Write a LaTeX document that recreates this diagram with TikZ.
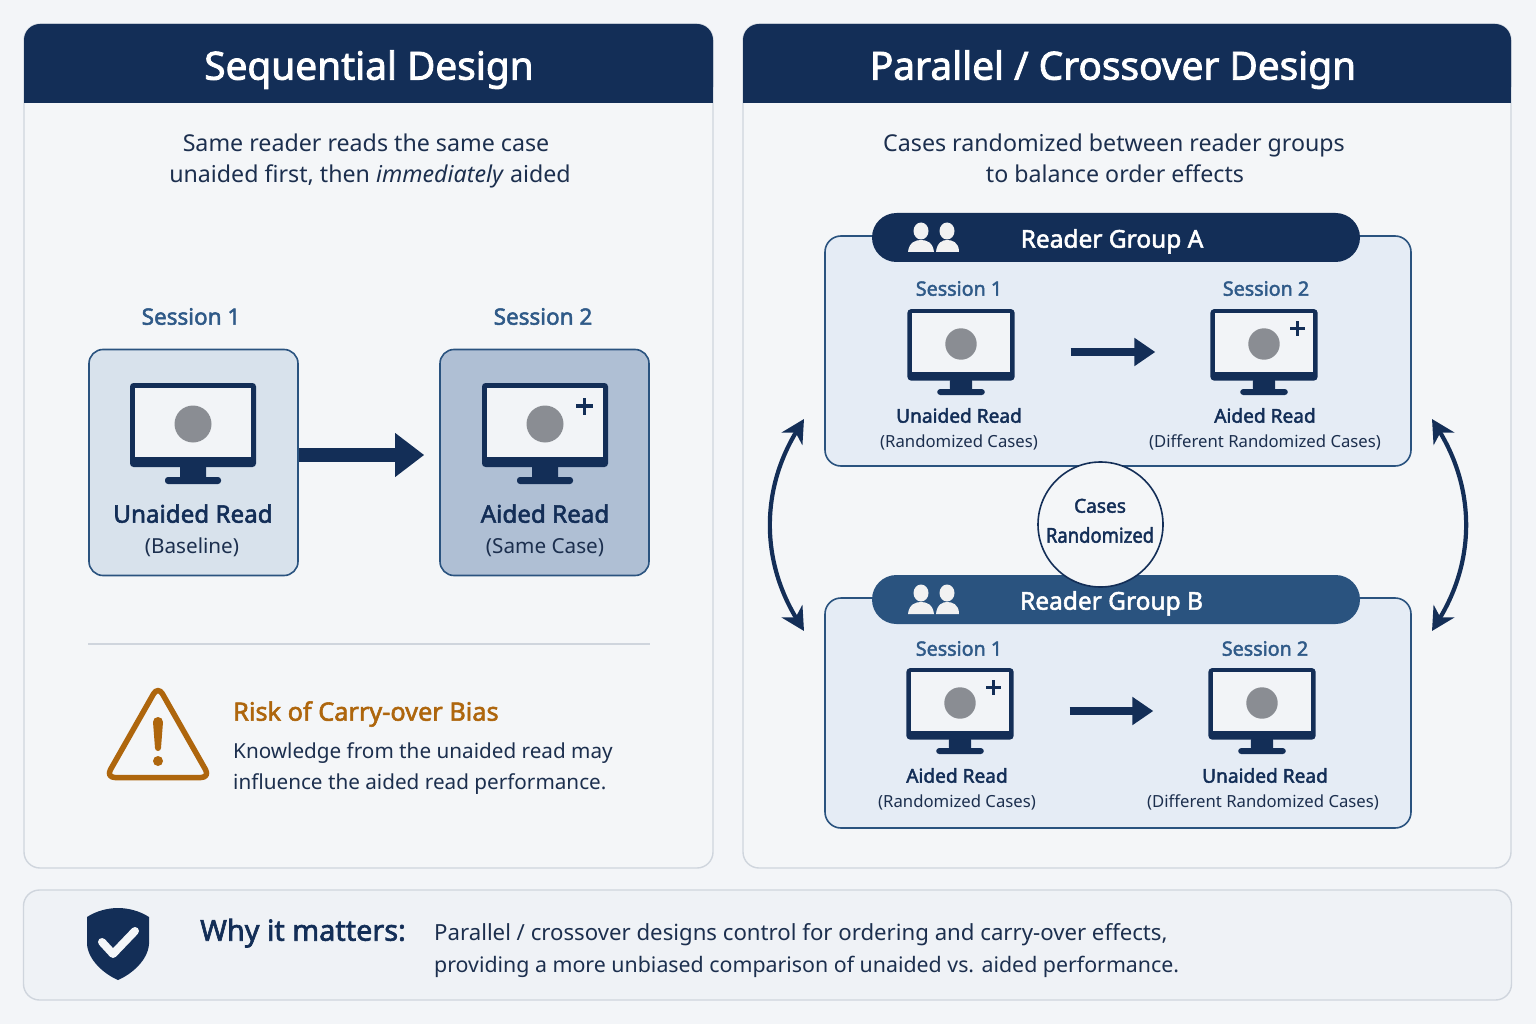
\documentclass[tikz,border=0pt]{standalone}
\usepackage{fontspec}
\usepackage{graphicx}
\setmainfont{Noto Sans}
\newfontfamily\semi[FakeBold=2.2]{Noto Sans}
\usetikzlibrary{arrows.meta,calc}
\definecolor{navy}{HTML}{132E57}
\definecolor{blueb}{HTML}{2A537F}
\definecolor{sess}{HTML}{2F5A88}
\definecolor{pagebg}{HTML}{F3F5F8}
\definecolor{panelbg}{HTML}{F4F6F8}
\definecolor{panelline}{HTML}{CFD5DD}
\definecolor{bottombg}{HTML}{EFF2F6}
\definecolor{boxa}{HTML}{D8E2EC}
\definecolor{boxb}{HTML}{AFBFD4}
\definecolor{groupbg}{HTML}{E5ECF5}
\definecolor{screen}{HTML}{F2F4F7}
\definecolor{dotgray}{HTML}{8A8D93}
\definecolor{warn}{HTML}{AE660D}
\definecolor{inktext}{HTML}{1C2F4E}
\newcommand{\monitorpic}[5]{%
  \node[minimum width=107pt*#4/0.85,minimum height=82pt,inner sep=0pt] (#1) at (#2,#3+8*#4/0.85) {};
  \begin{scope}[shift={(#2,#3)},scale=#4]
    \fill[navy,rounded corners=3pt] (-13,40) rectangle (13,56);
    \fill[navy,rounded corners=3pt] (-28,53) rectangle (28,60);
    \fill[navy,rounded corners=3.5pt] (-63,-41) rectangle (63,43);
    \fill[screen] (-58,-36) rectangle (58,33);
    \fill[dotgray] (0,0) circle (18.5);
    \ifnum#5=1
      \fill[navy] (31,-19.6) rectangle (48,-16.4);
      \fill[navy] (37.9,-26.5) rectangle (41.1,-9.5);
    \fi
  \end{scope}}
\newcommand{\peoplepic}[2]{%
  \begin{scope}[shift={(#1,#2)}]
    \fill[white!95!black] (-13,-8) ellipse (7.5 and 8.5);
    \fill[white!95!black] (13,-8) ellipse (7.5 and 8.5);
    \fill[white!95!black] (-26,13) .. controls (-25,3) and (-18,1) .. (-13,1) .. controls (-8,1) and (-1,3) .. (0,13) -- cycle;
    \fill[white!95!black] (2,13) .. controls (3,3) and (9,1) .. (13,1) .. controls (18,1) and (25,3) .. (25,13) -- cycle;
  \end{scope}}
\tikzset{
  x=1pt,y=-1pt,
  panel/.style={draw=panelline,line width=1.4pt,fill=panelbg,rounded corners=16pt,inner sep=0pt},
  sbox/.style={draw=blueb,line width=1.6pt,rounded corners=14pt,inner sep=0pt,minimum width=209pt,minimum height=226pt},
  gbox/.style={draw=blueb,line width=1.6pt,fill=groupbg,rounded corners=16pt,inner sep=0pt,minimum width=586pt,minimum height=230pt},
  pill/.style={rounded corners=24.5pt,inner sep=0pt,minimum width=488pt,minimum height=49pt},
  txt/.style={inner sep=0pt,anchor=mid,text=inktext},
  txtl/.style={inner sep=0pt,anchor=mid west,text=inktext},
  title/.style={txt,text=white,yshift=-10pt,font=\semi\fontsize{38.8}{38.8}\selectfont},
  lead/.style={txt,yshift=-6pt,font=\fontsize{23.2}{23.2}\selectfont},
  sessbig/.style={txt,yshift=-6pt,text=sess,font=\semi\fontsize{22.5}{22.5}\selectfont},
  sesssm/.style={txt,yshift=-5pt,text=sess,font=\semi\fontsize{19.7}{19.7}\selectfont},
  readbig/.style={txt,yshift=-6pt,text=navy,font=\semi\fontsize{24.2}{24.2}\selectfont},
  subbig/.style={txt,yshift=-6pt,font=\fontsize{20.7}{20.7}\selectfont},
  readsm/.style={txt,yshift=-5pt,text=navy,font=\semi\fontsize{19.1}{19.1}\selectfont},
  subsm/.style={txt,yshift=-5pt,font=\fontsize{16.7}{16.7}\selectfont},
  grouptxt/.style={txt,yshift=-6pt,text=white,font=\semi\fontsize{24.5}{24.5}\selectfont},
  body/.style={txtl,yshift=-6pt,font=\fontsize{20.7}{20.7}\selectfont},
  flowbig/.style={line width=14pt,draw=navy,-{Triangle[length=29pt,width=42pt]}},
  flowsm/.style={line width=8pt,draw=navy,-{Triangle[length=21pt,width=27pt]}},
  swap/.style={line width=4.2pt,draw=navy,{Stealth[length=23pt,width=24pt,inset=7pt]}-{Stealth[length=23pt,width=24pt,inset=7pt]}},
}
\begin{document}
\begin{tikzpicture}
\useasboundingbox (0,0) rectangle (1536,1024);
\fill[pagebg] (0,0) rectangle (1536,1024);

% panels
\node[panel,minimum width=689pt,minimum height=844pt] (leftpanel) at (368.5,446) {};
\node[panel,minimum width=768pt,minimum height=844pt] (rightpanel) at (1127,446) {};
\node[panel,fill=bottombg,minimum width=1488pt,minimum height=110pt] (bottompanel) at (767.5,945) {};

% headers
\fill[navy,rounded corners=16pt] (24,103) -- (24,24) -- (713,24) -- (713,103) [sharp corners] -- cycle;
\fill[navy] (24,80) rectangle (713,103);
\fill[navy,rounded corners=16pt] (743,103) -- (743,24) -- (1511,24) -- (1511,103) [sharp corners] -- cycle;
\fill[navy] (743,80) rectangle (1511,103);
\node[title] (lefttitle) at (369,67) {Sequential Design};
\node[title] (righttitle) at (1113,67) {Parallel / Crossover Design};

% left panel
\node[lead] (ll1) at (366,143) {Same reader reads the same case};
\node[lead] (ll2) at (370,174) {unaided first, then \textit{immediately} aided};
\node[sessbig] (ls1) at (191,316) {Session 1};
\node[sessbig] (ls2) at (543,316) {Session 2};
\node[sbox,fill=boxa] (s1) at (193.5,462.5) {};
\node[sbox,fill=boxb] (s2) at (544.5,462.5) {};
\monitorpic{m1}{193}{424}{1}{0}
\monitorpic{m2}{545}{424}{1}{1}
\node[readbig] (s1a) at (193,514) {Unaided Read};
\node[subbig] (s1b) at (192,545) {(Baseline)};
\node[readbig] (s2a) at (545,514) {Aided Read};
\node[subbig] (s2b) at (545,545) {(Same Case)};
\draw[flowbig] ([yshift=7.5pt]s1.east) -- ([yshift=7.5pt,xshift=-15pt]s2.west);
\draw[panelline,line width=1.4pt] (88,644) -- (650,644);

% warning
\draw[warn,line width=5.5pt,rounded corners=9pt,line join=round] (158,686) -- (106,777.5) -- (210,777.5) -- cycle;
\fill[warn] (153,722) arc[start angle=180,end angle=360,radius=5] -- (161,748) arc[start angle=0,end angle=180,radius=3] -- cycle;
\fill[warn] (158,761) circle (5);
\node[txtl,yshift=-6pt,text=warn,font=\semi\fontsize{25.3}{25.3}\selectfont] (risk) at (233,712) {Risk of Carry-over Bias};
\node[body] (r1) at (233,750) {Knowledge from the unaided read may};
\node[body] (r2) at (233,781) {influence the aided read performance.};

% right panel
\node[lead] (rl1) at (1114,143) {Cases randomized between reader groups};
\node[lead] (rl2) at (1115,174) {to balance order effects};

% group A
\node[gbox] (ga) at (1118,351) {};
\node[pill,fill=navy] (pa) at (1116,237.5) {};
\peoplepic{934}{239}
\node[grouptxt] (pat) at (1112,239) {Reader Group A};
\node[sesssm] (as1) at (959,288) {Session 1};
\node[sesssm] (as2) at (1266,288) {Session 2};
\monitorpic{ma1}{961}{344}{0.85}{0}
\monitorpic{ma2}{1264}{344}{0.85}{1}
\node[readsm] (aa1) at (959,415) {Unaided Read};
\node[subsm] (ab1) at (959,440) {(Randomized Cases)};
\node[readsm] (aa2) at (1265,415) {Aided Read};
\node[subsm] (ab2) at (1265,440) {(Different Randomized Cases)};
\draw[flowsm,shorten <=56pt,shorten >=55pt] (ma1.east) -- (ma2.west);

% group B
\node[gbox] (gb) at (1118,713) {};
\node[pill,fill=blueb] (pb) at (1116,599.5) {};
\peoplepic{934}{601}
\node[grouptxt] (pbt) at (1111.5,601) {Reader Group B};
\node[sesssm] (bs1) at (959,648) {Session 1};
\node[sesssm] (bs2) at (1265,648) {Session 2};
\monitorpic{mb1}{960}{703}{0.85}{1}
\monitorpic{mb2}{1262}{703}{0.85}{0}
\node[readsm] (ba1) at (957,775) {Aided Read};
\node[subsm] (bb1) at (957,800) {(Randomized Cases)};
\node[readsm] (ba2) at (1265,775) {Unaided Read};
\node[subsm] (bb2) at (1263,800) {(Different Randomized Cases)};
\draw[flowsm,shorten <=56pt,shorten >=55pt] (mb1.east) -- (mb2.west);

% randomized circle
\node[circle,draw=navy,line width=1.6pt,fill=panelbg,minimum size=125pt,inner sep=0pt] (rand) at (1100.5,524.5) {};
\node[readsm] (randa) at (1100,505) {Cases};
\node[readsm,font=\semi\fontsize{20.5}{20.5}\selectfont] (randb) at (1100,535) {\scalebox{0.9}[1]{Randomized}};

% swap arrows
\coordinate (la) at (804,419);
\coordinate (lb) at (804,631);
\coordinate (ra) at (1432,419);
\coordinate (rb) at (1432,631);
\draw[swap] (la) .. controls (761,490) and (761,560) .. (lb);
\draw[swap] (ra) .. controls (1475,490) and (1475,560) .. (rb);

% bottom
\fill[navy] (118,908) .. controls (128,908) and (140,911) .. (149,917) -- (149,944) .. controls (148,960) and (132,974) .. (118,980) .. controls (104,974) and (88,960) .. (87,944) -- (87,917) .. controls (96,911) and (108,908) .. (118,908) -- cycle;
\draw[panelbg,line width=8pt,line cap=round,line join=round] (102,942) -- (113,954) -- (135,931);
\node[txtl,yshift=-7pt,text=navy,font=\semi\fontsize{28.8}{28.8}\selectfont] (why) at (200,931) {Why it matters:};
\node[body,font=\fontsize{22.2}{22.2}\selectfont] (w1) at (434,932) {Parallel / crossover designs control for ordering and carry-over effects,};
\node[body,font=\fontsize{21.35}{21.35}\selectfont] (w2) at (434,964) {providing a more unbiased comparison of unaided vs. aided performance.};
\end{tikzpicture}
\end{document}
